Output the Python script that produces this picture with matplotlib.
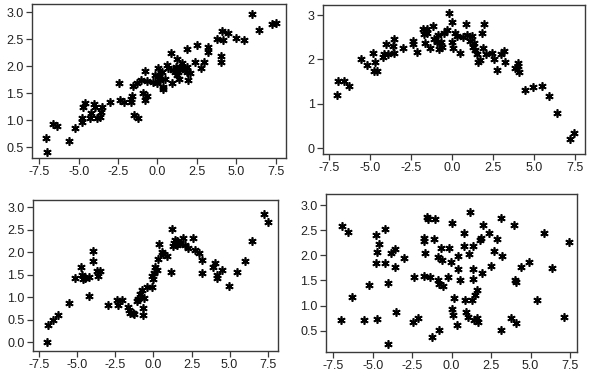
import matplotlib.pyplot as plt

plt.rcParams['font.family'] = ['Liberation Sans', 'DejaVu Sans']

# panel 1: roughly linear
x1 = [-7.08, -7.03, -6.61, -6.36, -5.60, -5.24, -4.81, -4.81, -4.75, -4.60,
      -4.28, -4.24, -4.01, -3.97, -3.86, -3.65, -3.59, -3.54, -3.02, -2.44,
      -2.38, -2.13, -1.70, -1.68, -1.64, -1.53, -1.47, -1.22, -1.28, -1.05,
      -0.90, -0.79, -0.79, -0.69, -0.69, -0.27, -0.16, -0.05, 0.01, 0.12,
      0.16, 0.26, 0.37, 0.37, 0.48, 0.58, 0.69, 0.84, 0.90, 1.00, 1.11,
      1.17, 1.22, 1.26, 1.32, 1.39, 1.43, 1.53, 1.53, 1.64, 1.74, 1.85,
      1.85, 1.85, 1.96, 2.06, 2.38, 2.53, 2.74, 2.95, 3.22, 3.22, 3.80,
      4.01, 4.01, 4.07, 4.14, 4.50, 4.98, 5.49, 5.98, 6.46, 7.25, 7.50]
y1 = [0.67, 0.42, 0.93, 0.89, 0.62, 0.85, 1.04, 0.97, 1.24, 1.31,
      1.04, 1.13, 1.30, 1.24, 1.04, 1.05, 1.16, 1.24, 1.33, 1.68,
      1.37, 1.34, 1.39, 1.33, 1.44, 1.63, 1.10, 1.04, 1.68, 1.74,
      1.50, 1.91, 1.37, 1.73, 1.44, 1.71, 1.84, 1.68, 1.96, 1.82,
      1.74, 1.90, 1.61, 1.57, 1.77, 2.02, 1.96, 2.25, 1.69, 1.93, 1.90,
      1.99, 1.84, 2.13, 1.90, 1.77, 1.99, 2.05, 1.96, 1.96, 1.92, 2.31,
      1.99, 1.90, 1.74, 1.87, 2.08, 2.39, 1.96, 2.08, 2.36, 2.27, 2.51,
      2.19, 2.08, 2.65, 2.48, 2.62, 2.53, 2.48, 2.96, 2.67, 2.78, 2.79]

# panel 2: arch
x2 = [-7.05, -6.99, -6.60, -6.28, -5.59, -5.22, -4.81, -4.77, -4.71, -4.57,
      -4.24, -4.16, -4.04, -3.90, -3.59, -3.55, -3.55, -3.02, -2.41, -2.37,
      -2.13, -1.76, -1.72, -1.66, -1.56, -1.52, -1.35, -1.19, -1.11, -0.95,
      -0.84, -0.78, -0.70, -0.64, -0.50, -0.34, -0.17, -0.03, 0.01, 0.03,
      0.17, 0.32, 0.48, 0.64, 0.85, 0.89, 1.09, 1.19, 1.25, 1.33, 1.39,
      1.50, 1.60, 1.70, 1.80, 1.90, 1.94, 2.07, 2.41, 2.55, 2.76, 2.96,
      3.17, 3.23, 3.84, 4.00, 4.04, 4.10, 4.45, 4.96, 5.47, 5.93, 6.38,
      7.20, 7.44]
y2 = [1.20, 1.51, 1.51, 1.40, 2.02, 1.87, 2.14, 1.74, 1.95, 1.74,
      2.05, 2.12, 2.36, 2.12, 2.30, 2.47, 2.14, 2.27, 2.42, 2.35,
      2.17, 2.68, 2.57, 2.38, 2.59, 2.68, 2.26, 2.75, 2.47, 2.40,
      2.55, 2.23, 2.40, 2.29, 2.59, 2.66, 3.06, 2.40, 2.85, 2.25,
      2.59, 2.53, 2.15, 2.50, 2.79, 2.55, 2.42, 2.53, 2.29, 2.38, 2.21,
      2.12, 1.95, 1.98, 2.59, 2.27, 2.79, 2.12, 2.14, 2.00, 1.77, 2.12,
      2.19, 1.95, 1.80, 1.92, 1.85, 1.72, 1.32, 1.37, 1.40, 1.17, 0.80,
      0.20, 0.33]

# panel 3: wave
x3 = [-7.02, -6.95, -6.58, -6.30, -5.53, -5.16, -4.78, -4.72, -4.65, -4.50,
      -4.22, -4.22, -4.00, -3.95, -3.73, -3.62, -3.52, -3.01, -2.38, -2.31,
      -2.09, -1.65, -1.54, -1.37, -1.59, -1.28, -1.11, -1.00, -0.89, -0.78,
      -0.71, -0.67, -0.62, -0.45, -0.12, -0.12, -0.01, 0.03, 0.10, 0.21,
      0.32, 0.38, 0.54, 0.65, 0.86, 1.13, 1.19, 1.26, 1.35, 1.41, 1.52,
      1.57, 1.63, 1.74, 1.92, 2.07, 2.29, 2.57, 2.73, 3.01, 3.16, 3.21,
      3.93, 4.04, 4.15, 4.19, 4.48, 4.98, 5.51, 6.01, 6.45, 7.26, 7.50]
y3 = [0.00, 0.38, 0.50, 0.60, 0.86, 1.42, 1.68, 1.49, 1.40, 1.42,
      1.03, 1.44, 2.03, 1.81, 1.59, 1.47, 1.59, 0.82, 0.94, 0.82,
      0.94, 0.79, 0.64, 0.65, 0.71, 0.62, 0.91, 0.96, 1.08, 1.16,
      0.60, 0.75, 0.97, 1.23, 1.23, 1.46, 1.40, 1.53, 1.66, 1.60,
      1.84, 2.18, 2.01, 1.96, 1.92, 1.57, 2.51, 2.13, 2.20, 2.27, 2.16,
      2.26, 2.20, 2.21, 2.31, 2.16, 2.09, 2.31, 2.05, 1.98, 1.83, 1.54,
      1.66, 1.75, 1.49, 1.42, 1.60, 1.25, 1.57, 1.81, 2.24, 2.85, 2.68]

# panel 4: no relation
x4 = [-7.04, -6.97, -6.55, -6.34, -5.56, -5.22, -4.79, -4.79, -4.75, -4.71,
      -4.58, -4.22, -4.22, -4.02, -4.06, -3.84, -3.57, -3.57, -3.55, -3.01,
      -2.38, -2.42, -2.13, -1.73, -1.73, -1.69, -1.75, -1.56, -1.47, -1.37,
      -1.25, -1.11, -1.05, -0.84, -0.84, -0.80, -0.78, -0.69, -0.63, -0.56,
      -0.20, -0.14, -0.06, 0.01, 0.01, 0.11, 0.15, 0.33, 0.39, 0.43,
      0.53, 0.79, 0.79, 0.85, 0.92, 1.02, 1.10, 1.16, 1.28, 1.34, 1.34,
      1.38, 1.42, 1.48, 1.59, 1.63, 1.70, 1.80, 1.85, 1.91, 2.01, 2.37,
      2.48, 2.71, 2.90, 3.12, 3.14, 3.16, 3.75, 3.95, 4.03, 4.09, 4.09,
      4.38, 4.92, 5.40, 5.87, 6.35, 7.13, 7.41]
y4 = [0.71, 2.59, 2.46, 1.18, 0.71, 1.40, 2.40, 1.84, 0.73, 2.06,
      2.22, 2.52, 1.84, 1.44, 0.23, 2.05, 2.12, 1.76, 0.88, 1.94,
      1.56, 0.68, 0.76, 2.35, 2.29, 2.05, 1.59, 2.77, 2.73, 1.56,
      0.38, 2.32, 2.72, 1.97, 1.51, 1.43, 0.51, 2.14, 1.91, 1.38,
      1.56, 2.14, 1.87, 2.64, 0.94, 0.81, 1.16, 0.61, 1.72, 1.99,
      1.51, 2.44, 2.18, 1.11, 0.88, 0.78, 2.03, 2.87, 1.11, 1.73, 1.52,
      2.18, 0.71, 1.21, 1.31, 0.75, 0.68, 2.30, 2.34, 1.64, 2.60, 2.45,
      1.79, 2.08, 2.32, 0.51, 2.75, 1.99, 0.75, 2.60, 1.51, 1.46, 0.65,
      1.77, 1.87, 1.12, 2.44, 1.75, 0.77, 2.26]

ytick1 = [0.5, 1.0, 1.5, 2.0, 2.5, 3.0]
ytick2 = [0, 1, 2, 3]
ytick3 = [0.0, 0.5, 1.0, 1.5, 2.0, 2.5, 3.0]
xtick = [-7.5, -5.0, -2.5, 0.0, 2.5, 5.0, 7.5]

fig = plt.figure(figsize=(5.89, 3.85), dpi=100)

panels = [
    (x1, y1, [0.0543, 0.5896, 0.4312, 0.400], (-7.96, 8.15), (0.30, 3.15), ytick1, '{:.1f}'),
    (x2, y2, [0.5484, 0.600, 0.4448, 0.387], (-7.88, 8.11), (-0.135, 3.23), ytick2, '{:.0f}'),
    (x3, y3, [0.0560, 0.0883, 0.4160, 0.392], (-7.91, 8.18), (-0.20, 3.16), ytick3, '{:.1f}'),
    (x4, y4, [0.5535, 0.0857, 0.4261, 0.4104], (-7.96, 7.94), (0.076, 3.22), ytick1, '{:.1f}'),
]

for xs, ys, pos, xl, yl, yt, fmt in panels:
    ax = fig.add_axes(pos)
    ax.plot(xs, ys, linestyle='none', marker=(6, 2, 0), markersize=6,
            markeredgewidth=1.2, color='black')
    ax.set_xlim(*xl)
    ax.set_ylim(*yl)
    ax.set_xticks(xtick)
    ax.set_xticklabels(['{:.1f}'.format(v) for v in xtick])
    ax.set_yticks(yt)
    ax.set_yticklabels([fmt.format(v) for v in yt])
    for s in ax.spines.values():
        s.set_color('#3a3a3a')
        s.set_linewidth(1.0)
    ax.tick_params(direction='out', length=4, width=0.9, colors='#3a3a3a',
                   labelcolor='#222222', labelsize=9, pad=2)

fig.savefig('out.png', dpi=100)
